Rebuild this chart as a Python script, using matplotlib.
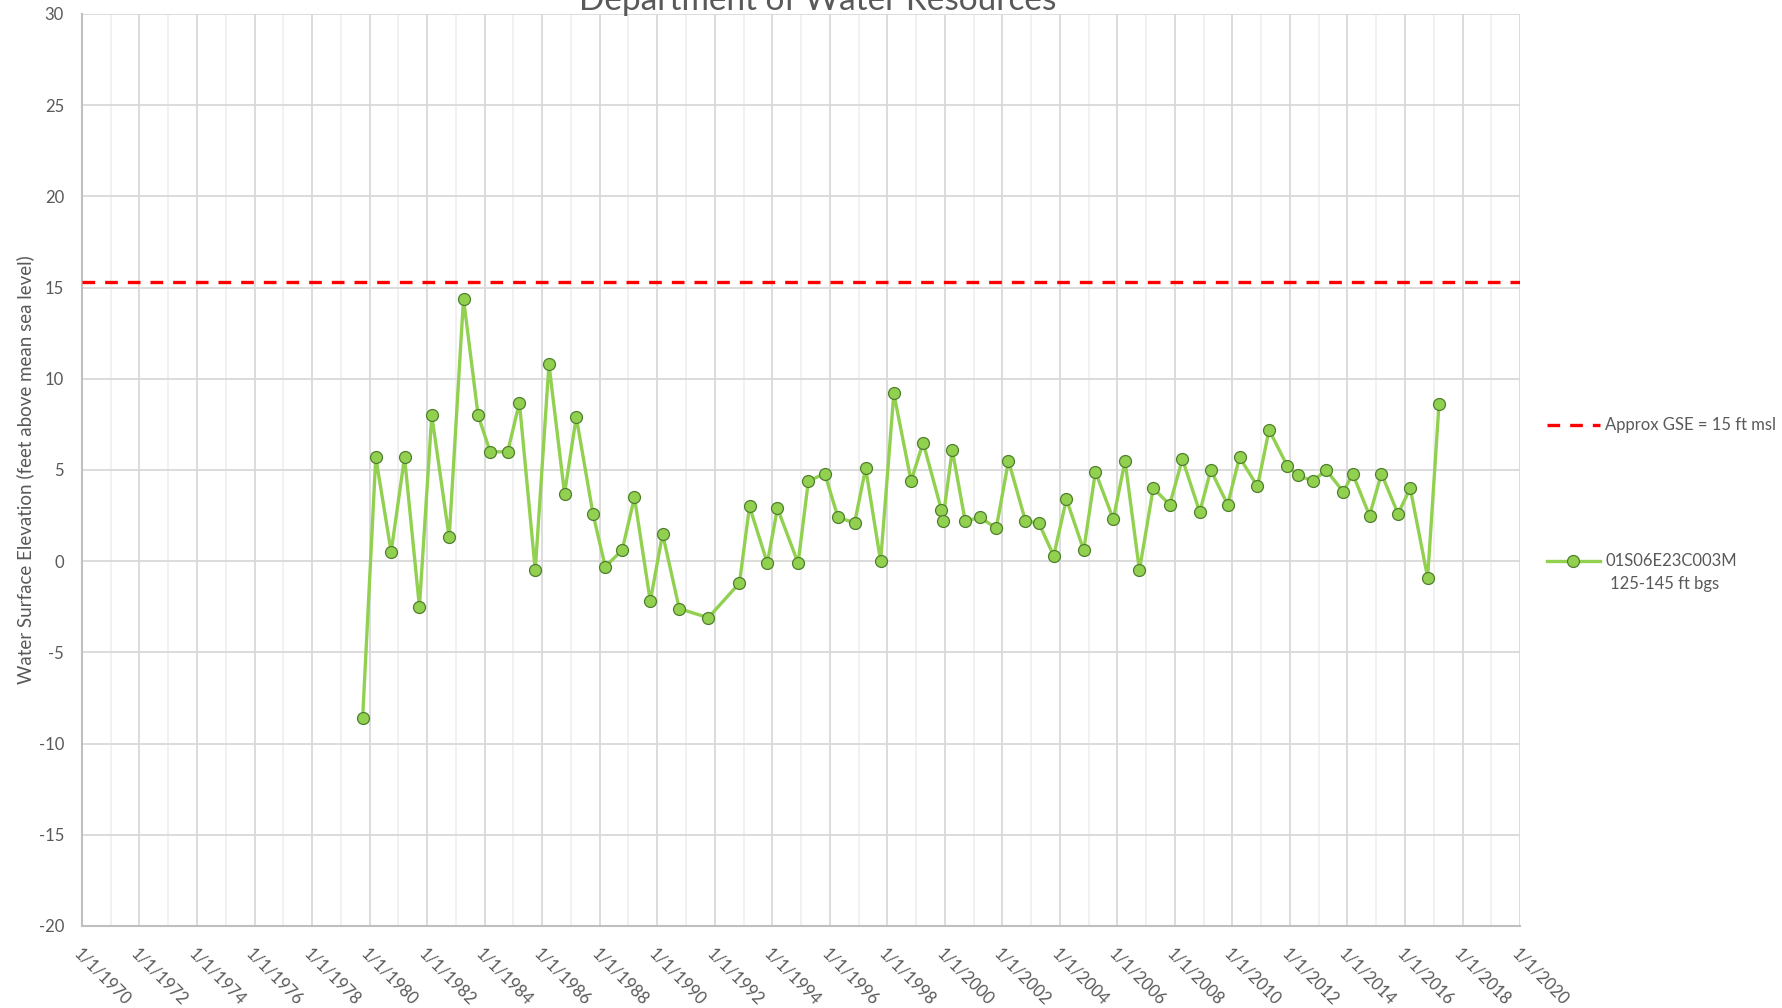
import matplotlib
matplotlib.use('Agg')
import matplotlib.pyplot as plt
import matplotlib.dates as mdates
from matplotlib.lines import Line2D
from matplotlib.ticker import MultipleLocator, FuncFormatter
import numpy as np

# well 01S06E23C003M, water surface elevation (ft msl)
dates = ['1979-10-05', '1980-03-20', '1980-10-01', '1981-03-20', '1981-09-25',
         '1982-03-01', '1982-10-08', '1983-04-08', '1983-10-10', '1984-03-12',
         '1984-10-20', '1985-03-18', '1985-10-05', '1986-03-28', '1986-10-12',
         '1987-03-10', '1987-10-08', '1988-03-12', '1988-10-12', '1989-03-18',
         '1989-10-05', '1990-03-10', '1990-10-08', '1991-10-12', '1992-11-10',
         '1993-03-18', '1993-10-30', '1994-03-08', '1994-11-25', '1995-04-05',
         '1995-10-30', '1996-04-15', '1996-11-12', '1997-04-01', '1997-10-08',
         '1998-03-25', '1998-10-30', '1999-04-01', '1999-11-20', '1999-12-05',
         '2000-04-05', '2000-09-16', '2001-03-28', '2001-10-15', '2002-03-20',
         '2002-10-22', '2003-04-08', '2003-10-15', '2004-03-25', '2004-10-30',
         '2005-03-28', '2005-11-10', '2006-04-08', '2006-10-08', '2007-04-01',
         '2007-10-28', '2008-04-05', '2008-11-12', '2009-04-01', '2009-11-01',
         '2010-04-01', '2010-11-15', '2011-04-12', '2011-12-01', '2012-04-08',
         '2012-10-20', '2013-04-05', '2013-11-10', '2014-03-08', '2014-10-08',
         '2015-03-08', '2015-10-05', '2016-03-08', '2016-10-15', '2017-03-08']
levels = [-8.6, 5.7, 0.5, 5.7, -2.5, 8.0, 1.3, 14.4, 8.0, 6.0,
          6.0, 8.7, -0.5, 10.8, 3.7, 7.9, 2.6, -0.3, 0.6, 3.5,
          -2.2, 1.5, -2.6, -3.1, -1.2, 3.0, -0.1, 2.9, -0.1, 4.4,
          4.8, 2.4, 2.1, 5.1, 0.0, 9.2, 4.4, 6.5, 2.8, 2.2,
          6.1, 2.2, 2.4, 1.8, 5.5, 2.2, 2.1, 0.3, 3.4, 0.6,
          4.9, 2.3, 5.5, -0.5, 4.0, 3.1, 5.6, 2.7, 5.0, 3.1,
          5.7, 4.1, 7.2, 5.2, 4.7, 4.4, 5.0, 3.8, 4.8, 2.5,
          4.8, 2.6, 4.0, -0.9, 8.6]

gse_dates = ['1970-01-01', '2020-01-01']
gse_level = 15.3

title = 'Department of Water Resources'
well_label = '01S06E23C003M'
screen_label = '125-145 ft bgs'
gse_label = 'Approx GSE = 15 ft msl'
ylabel = 'Water Surface Elevation (feet above mean sea level)'

plt.rcParams['font.family'] = ['Lato', 'DejaVu Sans']
plt.rcParams['axes.unicode_minus'] = False
gray = '#595959'
green = '#92d050'
green_edge = '#4e7f2c'

W, H = 1782, 1008
fig = plt.figure(figsize=(W / 100, H / 100), dpi=100)
ax = fig.add_axes([82 / W, 1 - 926 / H, (1520 - 82) / W, (926 - 14) / H])

x = np.array(dates, dtype='datetime64[D]').astype('O')
gx = np.array(gse_dates, dtype='datetime64[D]').astype('O')

ax.plot(gx, [gse_level, gse_level], color='red', lw=2.4, dashes=(3.8, 3.0), zorder=3)
ax.plot(x, levels, color=green, lw=2.4, marker='o', ms=8.6,
        mfc=green, mec=green_edge, mew=0.9, zorder=4)

ax.set_xlim(gx[0], gx[1])
ax.set_ylim(-20, 30)
ax.yaxis.set_major_locator(MultipleLocator(5))
ax.xaxis.set_major_locator(mdates.YearLocator(2))
ax.xaxis.set_minor_locator(mdates.YearLocator(1))
ax.xaxis.set_major_formatter(FuncFormatter(
    lambda v, p: '{d.month}/{d.day}/{d.year}'.format(d=mdates.num2date(v))))

ax.grid(True, which='major', color='#d9d9d9', lw=1.3)
ax.grid(True, which='minor', axis='x', color='#f0f0f0', lw=1.3)
ax.set_axisbelow(True)
for s in ['top', 'right']:
    ax.spines[s].set_visible(False)
ax.spines['left'].set_color('#bfbfbf')
ax.spines['bottom'].set_color('#bfbfbf')
ax.spines['left'].set_linewidth(1.5)
ax.spines['bottom'].set_linewidth(1.5)

ax.tick_params(axis='both', which='both', length=0, labelsize=12, labelcolor=gray)
ax.tick_params(axis='y', pad=13)
ax.tick_params(axis='x', pad=14)
for lab in ax.get_xticklabels():
    lab.set_rotation(-45)
    lab.set_ha('left')
    lab.set_va('top')
    lab.set_rotation_mode('anchor')

fig.text(25 / W, 1 - 470 / H, ylabel, rotation=90, ha='center', va='center',
         fontsize=13.5, color=gray)
fig.text(818 / W, 1 - 10 / H, title, ha='center', va='baseline',
         fontsize=24, color=gray)

# legend, drawn by hand to match the spread-out entries
def fx(px):
    return px / W

def fy(py):
    return 1 - py / H

fig.add_artist(Line2D([fx(1547), fx(1600)], [fy(425), fy(425)], color='red',
                      lw=2.4, dashes=(3.8, 3.0), transform=fig.transFigure))
fig.text(fx(1605), fy(425), gse_label, ha='left', va='center', fontsize=12, color=gray)
fig.add_artist(Line2D([fx(1547), fx(1600)], [fy(561), fy(561)], color=green,
                      lw=2.4, transform=fig.transFigure))
fig.add_artist(Line2D([fx(1573)], [fy(561)], marker='o', ms=8.6, mfc=green,
                      mec=green_edge, mew=0.9, transform=fig.transFigure))
fig.text(fx(1605), fy(561), well_label, ha='left', va='center', fontsize=12, color=gray)
fig.text(fx(1610), fy(584), screen_label, ha='left', va='center', fontsize=12, color=gray)

fig.savefig('out.png', dpi=100)
